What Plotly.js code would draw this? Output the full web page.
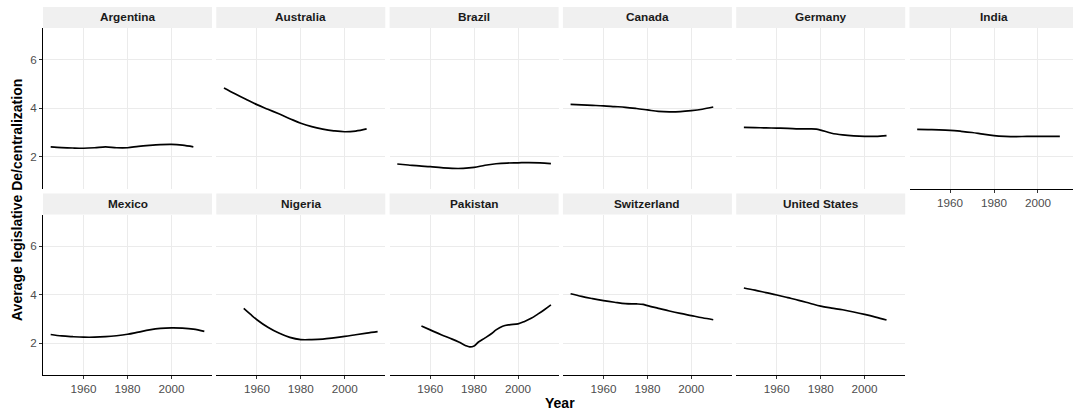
<!DOCTYPE html>
<html><head><meta charset="utf-8">
<script src="https://cdn.plot.ly/plotly-3.0.1.min.js"></script>
<style>html,body{margin:0;padding:0;overflow:hidden;background:#fff}#chart{width:1079px;height:414px}</style>
</head><body><div id="chart"></div><script>
const countries = ["Argentina","Australia","Brazil","Canada","Germany","India","Mexico","Nigeria","Pakistan","Switzerland","United States"];

const argentinaYears = [1945,1950,1955,1960,1965,1970,1975,1980,1985,1990,1995,2000,2005,2010];
const argentinaValues = [2.41,2.38,2.36,2.35,2.37,2.41,2.37,2.37,2.43,2.47,2.50,2.51,2.48,2.41];

const australiaYears = [1945,1950,1955,1960,1965,1970,1975,1980,1985,1990,1995,2000,2005,2010];
const australiaValues = [4.84,4.60,4.37,4.15,3.96,3.77,3.57,3.38,3.24,3.14,3.07,3.03,3.06,3.15];

const brazilYears = [1945,1950,1955,1960,1965,1970,1975,1980,1985,1990,1995,2000,2005,2010,2015];
const brazilValues = [1.70,1.66,1.62,1.59,1.55,1.52,1.52,1.56,1.65,1.71,1.74,1.75,1.76,1.75,1.72];

const canadaYears = [1945,1950,1955,1960,1965,1970,1975,1980,1985,1990,1995,2000,2005,2010];
const canadaValues = [4.16,4.14,4.12,4.10,4.07,4.04,3.99,3.93,3.87,3.85,3.86,3.90,3.96,4.05];

const germanyYears = [1945,1950,1955,1960,1965,1970,1975,1978,1980,1985,1990,1995,2000,2005,2010];
const germanyValues = [3.21,3.20,3.19,3.18,3.17,3.15,3.15,3.14,3.10,2.97,2.90,2.86,2.84,2.84,2.87];

const indiaYears = [1945,1950,1955,1960,1965,1970,1975,1980,1985,1990,1995,2000,2005,2010];
const indiaValues = [3.13,3.12,3.11,3.09,3.05,3.00,2.93,2.87,2.84,2.83,2.84,2.84,2.84,2.84];

const mexicoYears = [1945,1950,1955,1960,1965,1970,1975,1980,1985,1990,1995,2000,2005,2010,2015];
const mexicoValues = [2.36,2.30,2.27,2.25,2.25,2.27,2.31,2.37,2.46,2.55,2.61,2.63,2.62,2.58,2.49];

const nigeriaYears = [1954,1957,1960,1965,1970,1975,1980,1985,1990,1995,2000,2005,2010,2015];
const nigeriaValues = [3.44,3.20,2.97,2.66,2.42,2.24,2.15,2.15,2.17,2.22,2.28,2.35,2.42,2.48];

const pakistanYears = [1956,1960,1965,1970,1973,1976,1978,1980,1982,1985,1988,1990,1993,1996,2000,2003,2006,2009,2012,2015];
const pakistanValues = [2.71,2.55,2.35,2.17,2.05,1.91,1.85,1.89,2.05,2.22,2.40,2.55,2.70,2.76,2.80,2.90,3.03,3.20,3.38,3.58];

const switzerlandYears = [1945,1950,1955,1960,1965,1970,1975,1978,1980,1985,1990,1995,2000,2005,2010];
const switzerlandValues = [4.04,3.93,3.84,3.76,3.69,3.63,3.62,3.60,3.55,3.44,3.33,3.23,3.14,3.05,2.97];

const unitedStatesYears = [1945,1950,1955,1960,1965,1970,1975,1980,1985,1990,1995,2000,2005,2010];
const unitedStatesValues = [4.28,4.19,4.09,3.99,3.88,3.77,3.65,3.53,3.45,3.38,3.29,3.19,3.08,2.96];

const xTicks = [1960,1980,2000];
const yTicks = [2,4,6];

const seriesYears = [argentinaYears,australiaYears,brazilYears,canadaYears,germanyYears,indiaYears,mexicoYears,nigeriaYears,pakistanYears,switzerlandYears,unitedStatesYears];
const seriesValues = [argentinaValues,australiaValues,brazilValues,canadaValues,germanyValues,indiaValues,mexicoValues,nigeriaValues,pakistanValues,switzerlandValues,unitedStatesValues];

const W = 1079, H = 414;
const left0 = 43, panelW = 169, colStep = 173.3;
const rowsGeo = [{stripTop:7, top:28, bottom:188.5},{stripTop:193.5, top:214.5, bottom:375}];
const FONT = "Liberation Sans, Arial, sans-serif";

const traces = [], layout = {
  width: W, height: H, margin:{l:0,r:0,t:0,b:0},
  paper_bgcolor:'#fff', plot_bgcolor:'#fff', showlegend:false,
  font:{family:FONT, color:'#4D4D4D', size:11.7},
  shapes:[], annotations:[]
};

countries.forEach((name,i)=>{
  const r = Math.floor(i/6), c = i%6;
  const g = rowsGeo[r];
  const L = left0 + c*colStep, R = L + panelW;
  const isBottom = (r===1) || (i===5);
  const isLeft = (c===0);
  const xa = 'xaxis' + (i===0?'':(i+1));
  const ya = 'yaxis' + (i===0?'':(i+1));
  const xr = 'x' + (i===0?'':(i+1));
  const yr = 'y' + (i===0?'':(i+1));
  layout[xa] = {
    domain:[L/W, R/W], anchor: yr, range:[1941.5,2018.5],
    tickvals:xTicks, ticktext:xTicks.map(String),
    showgrid:true, gridcolor:'#EBEBEB', gridwidth:1, zeroline:false,
    showline:isBottom, linecolor:'#000', linewidth:1,
    ticks:isBottom?'outside':'', ticklen:3, tickcolor:'#333', tickwidth:1,
    showticklabels:isBottom, tickfont:{family:FONT,size:11.7,color:'#4D4D4D'},
    fixedrange:true
  };
  layout[ya] = {
    domain:[1-g.bottom/H, 1-g.top/H], anchor: xr, range:[0.69,7.31],
    tickvals:yTicks, ticktext:yTicks.map(String),
    showgrid:true, gridcolor:'#EBEBEB', gridwidth:1, zeroline:false,
    showline:isLeft, linecolor:'#000', linewidth:1,
    ticks:isLeft?'outside':'', ticklen:3, tickcolor:'#333', tickwidth:1,
    showticklabels:isLeft, tickfont:{family:FONT,size:11.7,color:'#4D4D4D'},
    fixedrange:true
  };
  traces.push({
    type:'scatter', mode:'lines', x:seriesYears[i], y:seriesValues[i],
    xaxis:xr, yaxis:yr, line:{color:'#000', width:1.7, shape:'spline', smoothing:1},
    hoverinfo:'skip'
  });
  layout.shapes.push({type:'rect', xref:'paper', yref:'paper',
    x0:L/W, x1:R/W, y0:1-g.top/H, y1:1-g.stripTop/H,
    fillcolor:'#F0F0F0', line:{width:0}, layer:'below'});
  layout.annotations.push({xref:'paper', yref:'paper', x:(L+R)/2/W, y:1-(g.stripTop+g.top)/2/H,
    text:'<b>'+name+'</b>', showarrow:false, xanchor:'center', yanchor:'middle',
    font:{family:FONT, size:11.8, color:'#1A1A1A'}});
});

layout.annotations.push({xref:'paper', yref:'paper', x:560/W, y:1-403/H, text:'<b>Year</b>',
  showarrow:false, xanchor:'center', yanchor:'middle', font:{family:FONT,size:14,color:'#000'}});
layout.annotations.push({xref:'paper', yref:'paper', x:17/W, y:1-200/H, text:'<b>Average legislative De/centralization</b>',
  showarrow:false, textangle:-90, xanchor:'center', yanchor:'middle', font:{family:FONT,size:14,color:'#000'}});

Plotly.newPlot('chart', traces, layout, {displayModeBar:false, staticPlot:true});
</script></body></html>
